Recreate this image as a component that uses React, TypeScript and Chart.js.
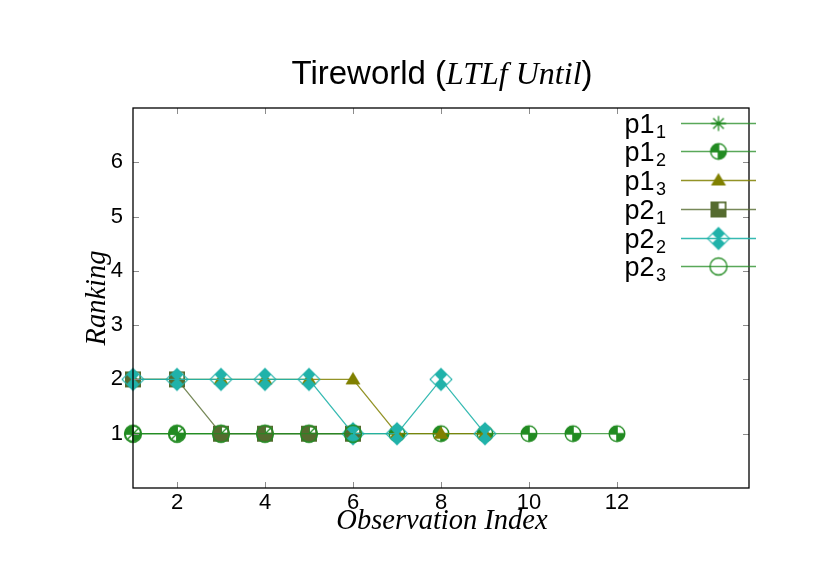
import React, { useEffect, useRef } from 'react';
import { Chart, registerables } from 'chart.js';

Chart.register(...registerables);

// ---------- data ----------
const observationIndex = [1, 2, 3, 4, 5, 6, 7, 8, 9, 10, 11, 12];
const p1_1 = [1, 1, 1, 1, 1, 1];
const p1_2 = [1, 1, 1, 1, 1, 1, 1, 1, 1, 1, 1, 1];
const p1_3 = [2, 2, 2, 2, 2, 2, 1, 1, 1];
const p2_1 = [2, 2, 1, 1, 1, 1];
const p2_2 = [2, 2, 2, 2, 2, 1, 1, 2, 1];
const p2_3 = [1, 1, 1, 1, 1, 1];
const seriesValues = [p1_1, p1_2, p1_3, p2_1, p2_2, p2_3];
const seriesBase = ['p1', 'p1', 'p1', 'p2', 'p2', 'p2'];
const seriesSub = ['1', '2', '3', '1', '2', '3'];
const seriesColors = ['#228B22', '#228B22', '#808000', '#556B2F', '#20B2AA', '#228B22'];
const lineColors = ['rgba(34,139,34,0.75)', 'rgba(34,139,34,0.75)', 'rgba(128,128,0,0.85)', 'rgba(85,107,47,0.8)', 'rgba(32,178,170,0.9)', 'rgba(34,139,34,0.75)'];
const markerKinds = ['star', 'quarterCircle', 'triangle', 'cornerSquare', 'splitDiamond', 'openCircle'];
const xTicks = [2, 4, 6, 8, 10, 12];
const yTicks = [1, 2, 3, 4, 5, 6];

const SANS = '"Liberation Sans", Arial, sans-serif';
const SERIF = '"Liberation Serif", "Times New Roman", serif';

function makeMarker(kind: string, color: string): HTMLCanvasElement {
  const S = 30;
  const c = document.createElement('canvas');
  c.width = S;
  c.height = S;
  const g = c.getContext('2d')!;
  g.translate(S / 2, S / 2);
  g.fillStyle = color;
  g.strokeStyle = color;
  g.lineWidth = 1.3;
  if (kind === 'star') {
    const r = 7.5;
    const d = r * Math.SQRT1_2;
    g.beginPath();
    g.moveTo(-r, 0); g.lineTo(r, 0);
    g.moveTo(0, -r); g.lineTo(0, r);
    g.moveTo(-d, -d); g.lineTo(d, d);
    g.moveTo(-d, d); g.lineTo(d, -d);
    g.stroke();
  } else if (kind === 'quarterCircle') {
    const r = 8.5;
    g.beginPath();
    g.arc(0, 0, r, 0, Math.PI * 2);
    g.fill();
    g.globalCompositeOperation = 'destination-out';
    const ri = r - 1.8;
    g.beginPath();
    g.moveTo(0.8, -0.8);
    g.arc(0.8, -0.8, ri - 0.6, -Math.PI / 2, 0);
    g.closePath();
    g.fill();
    g.beginPath();
    g.moveTo(-0.8, 0.8);
    g.arc(-0.8, 0.8, ri - 0.6, Math.PI / 2, Math.PI);
    g.closePath();
    g.fill();
  } else if (kind === 'triangle') {
    g.beginPath();
    g.moveTo(0, -7.5);
    g.lineTo(7.5, 5);
    g.lineTo(-7.5, 5);
    g.closePath();
    g.fill();
  } else if (kind === 'cornerSquare') {
    g.fillRect(-8, -8, 16, 16);
    g.globalCompositeOperation = 'destination-out';
    g.fillRect(0.3, -6.3, 6, 6);
  } else if (kind === 'splitDiamond') {
    const r = 11.7;
    g.beginPath();
    g.moveTo(0, -r); g.lineTo(r, 0); g.lineTo(0, r); g.lineTo(-r, 0);
    g.closePath();
    g.fill();
    g.globalCompositeOperation = 'destination-out';
    const sub = (cx: number) => {
      const h = r / 2 - 1.6;
      g.beginPath();
      g.moveTo(cx, -h); g.lineTo(cx + h, 0); g.lineTo(cx, h); g.lineTo(cx - h, 0);
      g.closePath();
      g.fill();
    };
    sub(-r / 2);
    sub(r / 2);
  } else if (kind === 'openCircle') {
    g.beginPath();
    g.arc(0, 0, 8.5, 0, Math.PI * 2);
    g.stroke();
  }
  return c;
}

export default function App() {
  const ref = useRef<HTMLCanvasElement | null>(null);

  useEffect(() => {
    document.body.style.margin = '0';
    const canvas = ref.current!;
    const markers = markerKinds.map((k, i) => makeMarker(k, seriesColors[i]));

    const datasets = seriesValues.map((vals, i) => ({
      label: seriesBase[i] + seriesSub[i],
      data: vals.map((v, j) => ({ x: observationIndex[j], y: v })),
      borderColor: lineColors[i],
      backgroundColor: seriesColors[i],
      borderWidth: 1.3,
      pointStyle: markers[i],
      pointRadius: 8,
      pointHoverRadius: 8,
      tension: 0,
      clip: false as any,
      order: seriesValues.length - 1 - i,
    }));

    const decor = {
      id: 'decor',
      afterDatasetsDraw(chart: any) {
        const { ctx, chartArea, scales } = chart;
        const { left, right, top, bottom } = chartArea;
        const x = scales.x;
        const y = scales.y;
        ctx.save();
        ctx.strokeStyle = '#8c8c8c';
        ctx.lineWidth = 1;
        ctx.beginPath();
        for (const v of xTicks) {
          const px = Math.round(x.getPixelForValue(v)) + 0.5;
          ctx.moveTo(px, bottom); ctx.lineTo(px, bottom - 6);
          ctx.moveTo(px, top); ctx.lineTo(px, top + 6);
        }
        for (const v of yTicks) {
          const py = Math.round(y.getPixelForValue(v)) + 0.5;
          ctx.moveTo(left, py); ctx.lineTo(left + 6, py);
          ctx.moveTo(right, py); ctx.lineTo(right - 6, py);
        }
        ctx.stroke();
        ctx.strokeStyle = '#000';
        ctx.lineWidth = 1.3;
        ctx.strokeRect(left, top, right - left, bottom - top);
        ctx.restore();
      },
      afterDraw(chart: any) {
        const { ctx } = chart;
        ctx.save();
        ctx.fillStyle = '#000';
        ctx.textBaseline = 'alphabetic';
        // title
        const parts = [
          { t: 'Tireworld (', f: `33px ${SANS}` },
          { t: 'LTLf Until', f: `italic 32px ${SERIF}` },
          { t: ')', f: `33px ${SANS}` },
        ];
        let total = 0;
        const widths = parts.map((p) => { ctx.font = p.f; const w = ctx.measureText(p.t).width; total += w; return w; });
        let tx = 442 - total / 2;
        parts.forEach((p, i) => {
          ctx.font = p.f;
          ctx.textAlign = 'left';
          ctx.fillText(p.t, tx, 84);
          tx += widths[i];
        });
        // axis titles
        ctx.font = `italic 28.5px ${SERIF}`;
        ctx.textAlign = 'center';
        ctx.fillText('Observation Index', 442, 529);
        ctx.save();
        ctx.translate(105, 298);
        ctx.rotate(-Math.PI / 2);
        ctx.fillText('Ranking', 0, 0);
        ctx.restore();
        // legend
        const rowY0 = 122.7;
        const rowStep = 28.7;
        for (let i = 0; i < seriesBase.length; i++) {
          const ry = rowY0 + i * rowStep;
          ctx.font = `18px ${SANS}`;
          const subW = ctx.measureText(seriesSub[i]).width;
          ctx.textAlign = 'right';
          ctx.fillText(seriesSub[i], 666, ry + 15);
          ctx.font = `27px ${SANS}`;
          ctx.fillText(seriesBase[i], 666 - subW - 1.5, ry + 10);
          ctx.strokeStyle = lineColors[i];
          ctx.lineWidth = 1.3;
          ctx.beginPath();
          ctx.moveTo(681, Math.round(ry) + 0.5);
          ctx.lineTo(756, Math.round(ry) + 0.5);
          ctx.stroke();
          const m = markers[i];
          ctx.drawImage(m, 718.5 - m.width / 2, Math.round(ry) + 0.5 - m.height / 2);
        }
        ctx.restore();
      },
    };

    const chart = new Chart(canvas, {
      type: 'line',
      data: { datasets: datasets as any },
      options: {
        responsive: false,
        animation: false,
        events: [],
        layout: { padding: { top: 108, right: 81, left: 0, bottom: 0 } },
        plugins: {
          legend: { display: false },
          title: { display: false },
          tooltip: { enabled: false },
        },
        scales: {
          x: {
            type: 'linear',
            min: 1,
            max: 15,
            grid: { display: false, drawTicks: false },
            border: { display: false },
            afterBuildTicks: (s: any) => { s.ticks = xTicks.map((v) => ({ value: v })); },
            afterFit: (s: any) => { s.height = 99; },
            ticks: {
              font: { family: SANS, size: 22 },
              color: '#000',
              padding: 2,
              maxRotation: 0,
              autoSkip: false,
            },
          },
          y: {
            type: 'linear',
            min: 0,
            max: 7,
            grid: { display: false, drawTicks: false },
            border: { display: false },
            afterBuildTicks: (s: any) => { s.ticks = yTicks.map((v) => ({ value: v })); },
            afterFit: (s: any) => { s.width = 133; },
            ticks: {
              font: { family: SANS, size: 22 },
              color: '#000',
              padding: 10,
              autoSkip: false,
            },
          },
        },
      },
      plugins: [decor],
    });
    return () => chart.destroy();
  }, []);

  return (
    <div style={{ position: 'absolute', left: 0, top: 0, width: 830, height: 587, background: '#fff' }}>
      <canvas ref={ref} width={830} height={587} style={{ display: 'block', width: 830, height: 587 }} />
    </div>
  );
}
